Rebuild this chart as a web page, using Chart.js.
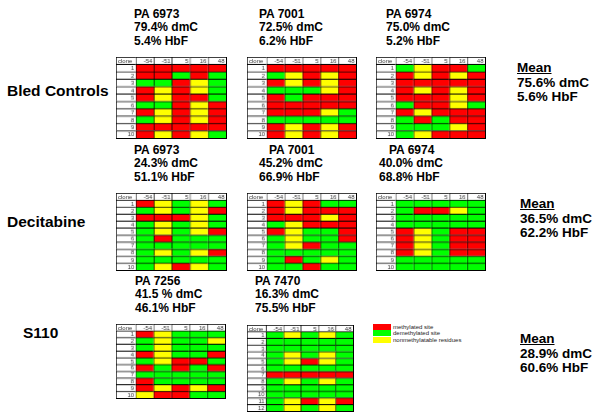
<!DOCTYPE html>
<html>
<head>
<title>Methylation grids</title>
<script src="https://cdn.jsdelivr.net/npm/chart.js"></script>
<style>
    body { margin: 0; background: #fff; font-family: "Liberation Sans", Arial, sans-serif; }
    #page { position: relative; width: 600px; height: 418px; overflow: hidden; }
    .lbl { position: absolute; font-weight: bold; white-space: nowrap; color: #000; }
    .pa { font-size: 12px; line-height: 13.4px; }
    .mean { font-size: 13.5px; line-height: 14.7px; }
    .grp { font-size: 15.5px; line-height: 18px; }
    canvas.grid { position: absolute; border-right: 1px solid #000; border-bottom: 1px solid #000; }
    .key { position: absolute; left: 373px; width: 18px; }
    .keytxt { position: absolute; left: 393px; font-size: 6px; line-height: 6px; color: #222; white-space: nowrap; }
</style>
</head>
<body>
<div id="page">
    <div class="lbl grp" style="left:7px; top:82px;">Bled Controls</div>
    <div class="lbl grp" style="left:7px; top:213px;">Decitabine</div>
    <div class="lbl grp" style="left:23px; top:324px;">S110</div>

    <div class="lbl pa" style="left:134px; top:8px;">PA 6973<br>79.4% dmC<br>5.4% HbF</div>
    <div class="lbl pa" style="left:259px; top:8px;">PA 7001<br>72.5% dmC<br>6.2% HbF</div>
    <div class="lbl pa" style="left:386px; top:8px;">PA 6974<br>75.0% dmC<br>5.2% HbF</div>

    <div class="lbl pa" style="left:134px; top:144px;">PA 6973<br>24.3% dmC<br>51.1% HbF</div>
    <div class="lbl pa" style="left:259px; top:144px;">&nbsp;&nbsp;&nbsp;PA 7001<br>45.2% dmC<br>66.9% HbF</div>
    <div class="lbl pa" style="left:379px; top:144px;">&nbsp;&nbsp;&nbsp;PA 6974<br>40.0% dmC<br>68.8% HbF</div>

    <div class="lbl pa" style="left:135px; top:275px;">PA 7256<br>41.5 % dmC<br>46.1% HbF</div>
    <div class="lbl pa" style="left:255px; top:275px;">PA 7470<br>16.3% dmC<br>75.5% HbF</div>

    <div class="lbl mean" style="left:517px; top:61px;"><u>Mean</u><br>75.6% dmC<br>5.6% HbF</div>
    <div class="lbl mean" style="left:520px; top:197px;"><u>Mean</u><br>36.5% dmC<br>62.2% HbF</div>
    <div class="lbl mean" style="left:520px; top:332px;"><u>Mean</u><br>28.9% dmC<br>60.6% HbF</div>

    <div class="key" style="top:324px; height:6px; background:#ff0000;"></div>
    <div class="key" style="top:330px; height:6px; background:#00ff00;"></div>
    <div class="key" style="top:337px; height:6px; background:#ffff00;"></div>
    <div class="keytxt" style="top:324px;">methylated site</div>
    <div class="keytxt" style="top:330px;">demethylated site</div>
    <div class="keytxt" style="top:337px;">nonmethylatable residues</div>

    <canvas class="grid" id="g1" style="left:116px; top:57px;" width="111" height="82"></canvas>
    <canvas class="grid" id="g2" style="left:247px; top:57px;" width="110" height="82"></canvas>
    <canvas class="grid" id="g3" style="left:376px; top:57px;" width="110" height="82"></canvas>
    <canvas class="grid" id="g4" style="left:116px; top:193px;" width="111" height="78"></canvas>
    <canvas class="grid" id="g5" style="left:247px; top:193px;" width="110" height="78"></canvas>
    <canvas class="grid" id="g6" style="left:376px; top:193px;" width="110" height="78"></canvas>
    <canvas class="grid" id="g7" style="left:116px; top:324px;" width="110" height="75"></canvas>
    <canvas class="grid" id="g8" style="left:247px; top:325px;" width="107" height="87"></canvas>
</div>

<script>
    var sites = ['-54', '-51', '5', '16', '48'];

    // M = methylated site, D = demethylated site, N = nonmethylatable residue
    var bled6973 = ['MMMMM', 'MMDMD', 'DDMND', 'MNMND', 'MNMMD', 'DDMNM', 'MNMNM', 'DNMNM', 'MMMMM', 'MNMND'];
    var bled7001 = ['MMMMM', 'DNMNM', 'MNMNM', 'DDDNM', 'MDMMM', 'MMMMM', 'MMMND', 'DDDDD', 'MNMNM', 'MNMNM'];
    var bled6974 = ['DNMMD', 'MNMNM', 'MMMMM', 'MNMNM', 'MMMNM', 'DMMND', 'MNMMM', 'DMDMM', 'DDDNM', 'DNMMM'];

    var dec6973 = ['MNDND', 'DNDNM', 'MMMND', 'DNDND', 'DNDNM', 'DMDDD', 'DDDDD', 'DNDNM', 'DDDDD', 'DNMND'];
    var dec7001 = ['MNMDD', 'MNMMM', 'MMMNM', 'DNMMM', 'MNDDM', 'DNDDM', 'DNMDD', 'DDDDD', 'DMDND', 'DDMDD'];
    var dec6974 = ['DDDDD', 'DMMND', 'DDDDD', 'DDDDD', 'MNDMM', 'MNDMM', 'MNDMM', 'MNDMM', 'DDDDD', 'DDDDD'];

    var s110_7256 = ['MNDDD', 'DNDDN', 'DNDDD', 'MNDDM', 'DNMMD', 'MDMDM', 'DDDDD', 'MDDDD', 'MNMNM', 'NMMDD'];
    var s110_7470 = ['DNDND', 'DDDDD', 'DDDDD', 'DNDND', 'DNMND', 'DDDDD', 'MMMMM', 'DNDND', 'DDDDD', 'DDDDD', 'DNMNM', 'DNDND'];

    var colours = { M: '#ff0000', D: '#00ff00', N: '#ffff00' };

    var cellText = {
        id: 'cellText',
        afterDatasetsDraw: function(chart) {
            var ctx = chart.ctx;
            ctx.save();
            ctx.font = '6px "Liberation Sans", Arial, sans-serif';
            ctx.fillStyle = '#333';
            ctx.textBaseline = 'middle';
            chart.data.datasets.forEach(function(ds, d) {
                var meta = chart.getDatasetMeta(d);
                meta.data.forEach(function(bar, i) {
                    if (i === 0 && d === 0) {
                        ctx.textAlign = 'left';
                        ctx.fillText('clone', bar.base + 2, bar.y + 0.5);
                    } else if (i === 0) {
                        ctx.textAlign = 'right';
                        ctx.fillText(ds.label, bar.x - 1.5, bar.y + 0.5);
                    } else if (d === 0) {
                        ctx.textAlign = 'right';
                        ctx.fillText(chart.data.labels[i], bar.x - 1.5, bar.y + 0.5);
                    }
                });
            });
            ctx.restore();
        }
    };

    function drawGrid(id, rows) {
        var labels = ['clone'].concat(rows.map(function(r, i) { return String(i + 1); }));
        var datasets = [{
            label: 'clone',
            data: labels.map(function() { return 1.09; }),
            backgroundColor: '#fff'
        }];
        sites.forEach(function(s, j) {
            datasets.push({
                label: s,
                data: labels.map(function() { return 1; }),
                backgroundColor: ['#fff'].concat(rows.map(function(r) { return colours[r[j]]; }))
            });
        });
        datasets.forEach(function(ds) {
            ds.borderColor = '#000';
            ds.borderWidth = { top: 1, left: 1, right: 0, bottom: 0 };
            ds.borderSkipped = false;
            ds.barPercentage = 1;
            ds.categoryPercentage = 1;
        });

        new Chart(document.getElementById(id), {
            type: 'bar',
            data: { labels: labels, datasets: datasets },
            options: {
                indexAxis: 'y',
                responsive: false,
                animation: false,
                events: [],
                layout: { padding: 0 },
                plugins: { legend: { display: false }, tooltip: { enabled: false } },
                scales: {
                    x: { stacked: true, display: false, min: 0, max: 6.09 },
                    y: { stacked: true, display: false }
                }
            },
            plugins: [cellText]
        });
    }

    drawGrid('g1', bled6973);
    drawGrid('g2', bled7001);
    drawGrid('g3', bled6974);
    drawGrid('g4', dec6973);
    drawGrid('g5', dec7001);
    drawGrid('g6', dec6974);
    drawGrid('g7', s110_7256);
    drawGrid('g8', s110_7470);
</script>
</body>
</html>
